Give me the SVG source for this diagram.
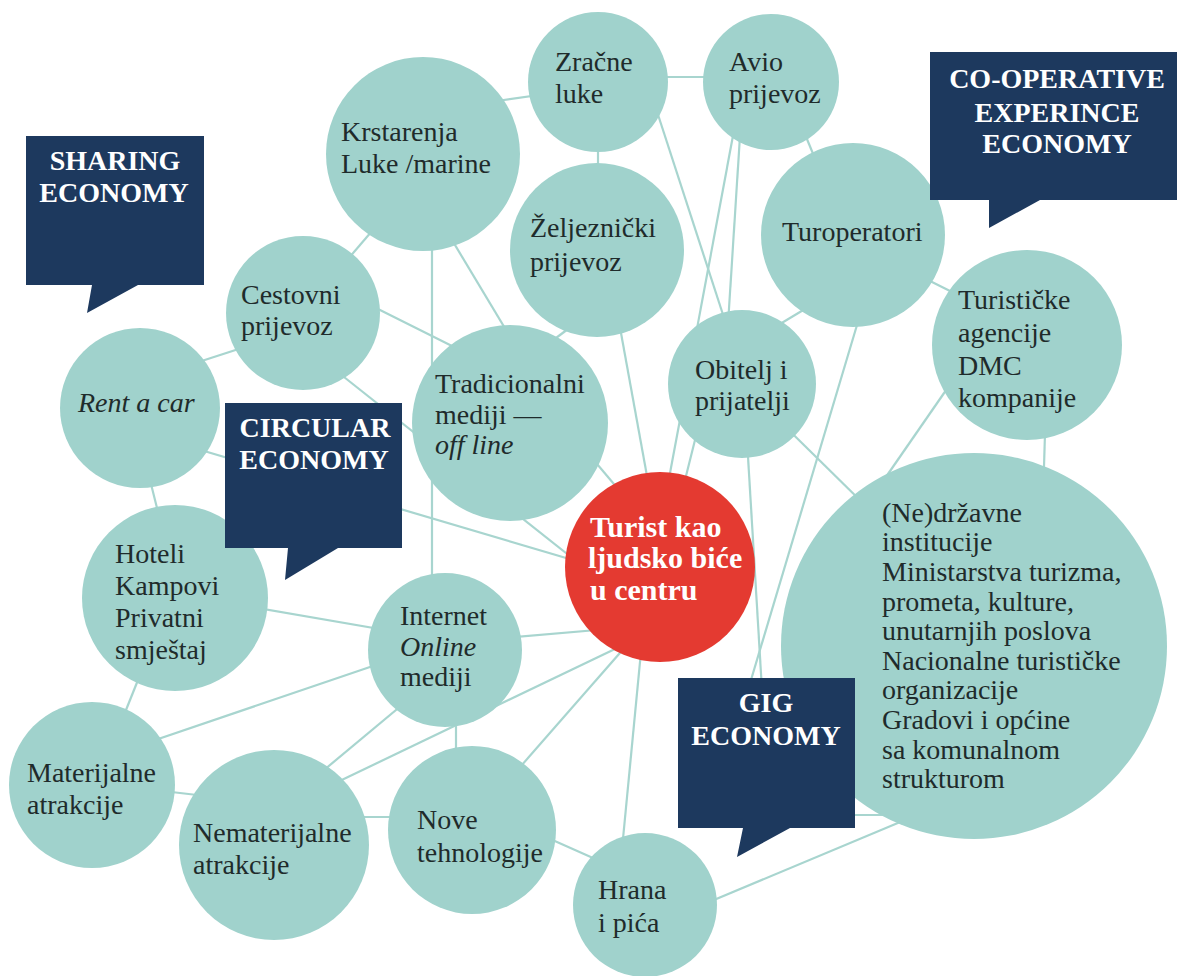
<svg xmlns="http://www.w3.org/2000/svg" width="1177" height="976" viewBox="0 0 1177 976">
<style>
.bg{fill:#ffffff}
.c{fill:#a0d2cc}
.r{fill:#e43a31}
.bx{fill:#1d395e}
.ln{stroke:#a8d5cf;stroke-width:2.2;fill:none}
.t{font-family:"Liberation Serif","Times New Roman",serif;font-size:28px;fill:#1f2b2b}
.it{font-style:italic}
.bt{font-family:"Liberation Serif","Times New Roman",serif;font-weight:bold;font-size:28px;fill:#ffffff;text-anchor:middle}
.rt{font-family:"Liberation Serif","Times New Roman",serif;font-weight:bold;font-size:30px;fill:#ffffff}
</style>
<rect class="bg" x="0" y="0" width="1177" height="976"/>
<g id="connectors" class="ln">
<line x1="490" y1="102" x2="560" y2="92"/>
<line x1="600" y1="77" x2="770" y2="77"/>
<line x1="598" y1="100" x2="598" y2="250"/>
<line x1="795" y1="110" x2="830" y2="195"/>
<line x1="650" y1="90" x2="728" y2="330"/>
<line x1="735" y1="125" x2="665" y2="500"/>
<line x1="741" y1="120" x2="727" y2="340"/>
<line x1="770" y1="330" x2="820" y2="300"/>
<line x1="860" y1="315" x2="748" y2="690"/>
<line x1="920" y1="276" x2="960" y2="296"/>
<line x1="1046" y1="400" x2="1043" y2="500"/>
<line x1="960" y1="370" x2="870" y2="500"/>
<line x1="742" y1="384" x2="870" y2="510"/>
<line x1="747" y1="440" x2="762" y2="690"/>
<line x1="700" y1="420" x2="680" y2="500"/>
<line x1="615" y1="300" x2="655" y2="520"/>
<line x1="540" y1="350" x2="580" y2="320"/>
<line x1="390" y1="210" x2="330" y2="280"/>
<line x1="440" y1="220" x2="515" y2="345"/>
<line x1="432" y1="200" x2="432" y2="620"/>
<line x1="340" y1="290" x2="480" y2="360"/>
<line x1="260" y1="342" x2="180" y2="368"/>
<line x1="320" y1="358" x2="600" y2="580"/>
<line x1="150" y1="435" x2="600" y2="568"/>
<line x1="145" y1="460" x2="165" y2="540"/>
<line x1="150" y1="650" x2="110" y2="750"/>
<line x1="200" y1="598" x2="420" y2="636"/>
<line x1="120" y1="752" x2="420" y2="650"/>
<line x1="120" y1="786" x2="240" y2="800"/>
<line x1="300" y1="790" x2="420" y2="690"/>
<line x1="300" y1="800" x2="640" y2="637"/>
<line x1="456" y1="700" x2="456" y2="780"/>
<line x1="330" y1="817" x2="420" y2="817"/>
<line x1="500" y1="790" x2="640" y2="630"/>
<line x1="530" y1="830" x2="620" y2="870"/>
<line x1="480" y1="640" x2="620" y2="628"/>
<line x1="645" y1="610" x2="620" y2="870"/>
<line x1="690" y1="910" x2="905" y2="820"/>
<line x1="840" y1="815" x2="900" y2="815"/>
<line x1="560" y1="420" x2="640" y2="515"/>
</g>
<g id="zracne"><circle class="c" cx="598" cy="82" r="70"/><text class="t" x="555" y="71">Zračne</text><text class="t" x="555" y="103">luke</text></g>
<g id="avio"><circle class="c" cx="771" cy="82" r="68"/><text class="t" x="729" y="71">Avio</text><text class="t" x="729" y="103">prijevoz</text></g>
<g id="krstarenja"><circle class="c" cx="423" cy="154" r="97"/><text class="t" x="341" y="141">Krstarenja</text><text class="t" x="341" y="173">Luke /marine</text></g>
<g id="zeljeznicki"><circle class="c" cx="597" cy="250" r="87"/><text class="t" x="530" y="237">Željeznički</text><text class="t" x="530" y="271">prijevoz</text></g>
<g id="turoperatori"><circle class="c" cx="853" cy="235" r="92"/><text class="t" x="782" y="241">Turoperatori</text></g>
<g id="turisticke"><circle class="c" cx="1027" cy="345" r="95"/><text class="t" x="958" y="309">Turističke</text><text class="t" x="958" y="342">agencije</text><text class="t" x="958" y="375">DMC</text><text class="t" x="958" y="407">kompanije</text></g>
<g id="cestovni"><circle class="c" cx="303" cy="313" r="77"/><text class="t" x="241" y="304">Cestovni</text><text class="t" x="241" y="335">prijevoz</text></g>
<g id="rentacar"><circle class="c" cx="140" cy="408" r="80"/><text class="t it" x="78" y="412">Rent a car</text></g>
<g id="tradicionalni"><circle class="c" cx="510" cy="423" r="98"/><text class="t" x="435" y="393">Tradicionalni</text><text class="t" x="435" y="424">mediji —</text><text class="t it" x="435" y="454">off line</text></g>
<g id="obitelj"><circle class="c" cx="742" cy="384" r="74"/><text class="t" x="695" y="379">Obitelj i</text><text class="t" x="695" y="410">prijatelji</text></g>
<g id="institucije"><circle class="c" cx="974" cy="646" r="193"/>
<text class="t" x="882" y="522">(Ne)državne</text>
<text class="t" x="882" y="551">institucije</text>
<text class="t" x="882" y="581">Ministarstva turizma,</text>
<text class="t" x="882" y="611">prometa, kulture,</text>
<text class="t" x="882" y="640">unutarnjih poslova</text>
<text class="t" x="882" y="670">Nacionalne turističke</text>
<text class="t" x="882" y="699"> organizacije</text>
<text class="t" x="882" y="729">Gradovi i općine</text>
<text class="t" x="882" y="759">sa komunalnom</text>
<text class="t" x="882" y="788">strukturom</text>
</g>
<g id="hoteli"><circle class="c" cx="175" cy="598" r="93"/><text class="t" x="115" y="563">Hoteli</text><text class="t" x="115" y="595">Kampovi</text><text class="t" x="115" y="627">Privatni</text><text class="t" x="115" y="659">smještaj</text></g>
<g id="internet"><circle class="c" cx="445" cy="650" r="77"/><text class="t" x="400" y="625">Internet</text><text class="t it" x="400" y="656">Online</text><text class="t" x="400" y="686">mediji</text></g>
<g id="materijalne"><circle class="c" cx="92" cy="785" r="83"/><text class="t" x="27" y="782">Materijalne</text><text class="t" x="27" y="814">atrakcije</text></g>
<g id="nematerijalne"><circle class="c" cx="274" cy="845" r="95"/><text class="t" x="193" y="842">Nematerijalne</text><text class="t" x="193" y="874">atrakcije</text></g>
<g id="nove"><circle class="c" cx="472" cy="830" r="84"/><text class="t" x="417" y="829">Nove</text><text class="t" x="417" y="862">tehnologije</text></g>
<g id="hrana"><circle class="c" cx="645" cy="905" r="72"/><text class="t" x="598" y="899">Hrana</text><text class="t" x="598" y="932">i pića</text></g>
<g id="turist"><circle class="r" cx="660" cy="567" r="95"/><text class="rt" x="590" y="537">Turist kao</text><text class="rt" x="588" y="568">ljudsko biće</text><text class="rt" x="590" y="600">u centru</text></g>
<g id="sharing"><path class="bx" d="M26,136 H204 V285 H138 L87,313 L92,285 H26 Z"/><text class="bt" x="115" y="170">SHARING</text><text class="bt" x="114" y="202">ECONOMY</text></g>
<g id="circular"><path class="bx" d="M225,403 H402 V548 H338 L285,580 L288,548 H225 Z"/><text class="bt" x="315" y="437">CIRCULAR</text><text class="bt" x="314" y="469">ECONOMY</text></g>
<g id="cooperative"><path class="bx" d="M930,52 H1177 V200 H1040 L989,228 V200 H930 Z"/><text class="bt" x="1057" y="88">CO-OPERATIVE</text><text class="bt" x="1057" y="122">EXPERINCE</text><text class="bt" x="1057" y="153">ECONOMY</text></g>
<g id="gig"><path class="bx" d="M678,678 H855 V828 H790 L737,857 L743,828 H678 Z"/><text class="bt" x="766" y="712">GIG</text><text class="bt" x="766" y="745">ECONOMY</text></g>
</svg>
